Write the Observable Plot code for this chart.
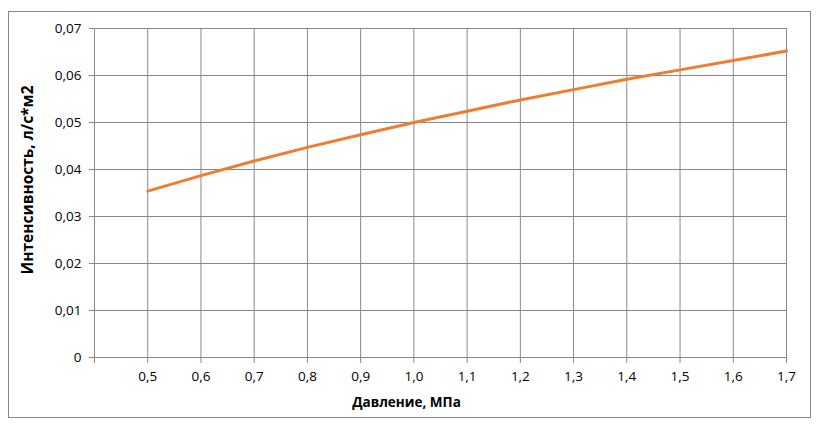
<!DOCTYPE html>
<html>
<head>
<meta charset="utf-8">
<script src="https://cdn.jsdelivr.net/npm/d3@7"></script>
<script src="https://cdn.jsdelivr.net/npm/@observablehq/plot@0.6"></script>
<style>
  body { margin: 0; background: #fff; }
  #wrap { position: relative; width: 818px; height: 430px; }
  #border { position: absolute; left: 8px; top: 11px; width: 801px; height: 405px; border: 1px solid #888; pointer-events: none; }
</style>
</head>
<body>
<div id="wrap"><div id="border"></div></div>
<script>
const pressure = [0.5, 0.6, 0.7, 0.8, 0.9, 1.0, 1.1, 1.2, 1.3, 1.4, 1.5, 1.6, 1.7];
const intensity = [0.0354, 0.0387, 0.0418, 0.0447, 0.0474, 0.0500, 0.0524, 0.0548, 0.0570, 0.0592, 0.0612, 0.0632, 0.0652];
const xGrid = [0.4, 0.5, 0.6, 0.7, 0.8, 0.9, 1.0, 1.1, 1.2, 1.3, 1.4, 1.5, 1.6, 1.7];
const xTickLabels = ["", "0,5", "0,6", "0,7", "0,8", "0,9", "1,0", "1,1", "1,2", "1,3", "1,4", "1,5", "1,6", "1,7"];
const yTicks = [0, 0.01, 0.02, 0.03, 0.04, 0.05, 0.06, 0.07];
const yTickLabels = ["0", "0,01", "0,02", "0,03", "0,04", "0,05", "0,06", "0,07"];
const xTitle = "Давление, МПа";
const yTitle = "Интенсивность, л/с*м2";

const data = pressure.map((p, i) => ({p, v: intensity[i]}));

const chart = Plot.plot({
  width: 818,
  height: 430,
  marginLeft: 94,
  marginRight: 32,
  marginTop: 28,
  marginBottom: 73,
  style: { fontFamily: "'Open Sans', sans-serif", fontSize: "13px", color: "#000", background: "transparent" },
  x: { domain: [0.4, 1.7] },
  y: { domain: [0, 0.07] },
  marks: [
    Plot.ruleX(xGrid, { stroke: "#888", strokeWidth: 1, strokeOpacity: 1 }),
    Plot.ruleY(yTicks, { stroke: "#888", strokeWidth: 1, strokeOpacity: 1 }),
    Plot.axisX(xGrid, { tickSize: 6, tickPadding: 8, stroke: "#888", fill: "#000", fontSize: 13.5, tickFormat: (d, i) => xTickLabels[i], label: null }),
    Plot.axisY(yTicks, { tickSize: 5, tickPadding: 8, stroke: "#888", fill: "#000", fontSize: 13.5, tickFormat: (d, i) => yTickLabels[i], label: null }),
    Plot.line(data, { x: "p", y: "v", stroke: "#ED7D31", strokeWidth: 3 }),
    Plot.text([xTitle], { frameAnchor: "bottom", lineAnchor: "middle", dx: -34, dy: 45, fontWeight: "bold", fontSize: 13.5, fill: "#000" }),
    Plot.text([yTitle], { frameAnchor: "left", textAnchor: "middle", lineAnchor: "middle", rotate: -90, dx: -66, dy: -13, fontWeight: "bold", fontSize: 15.5, fill: "#000" })
  ]
});
document.getElementById("wrap").prepend(chart);
</script>
</body>
</html>
